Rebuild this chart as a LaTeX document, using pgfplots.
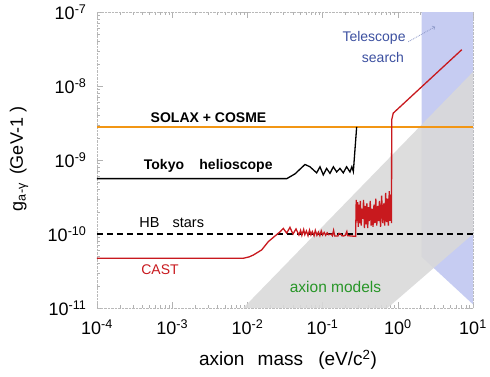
\documentclass[border=0pt]{standalone}
\usepackage{fontspec}
\setmainfont{Liberation Sans}
\usepackage{pgfplots}
\pgfplotsset{compat=1.18}
\definecolor{cblue}{RGB}{198,204,242}
\definecolor{corange}{RGB}{242,150,20}
\definecolor{cred}{RGB}{200,25,30}
\definecolor{cgreen}{RGB}{40,150,40}
\definecolor{ctext}{RGB}{60,80,160}
\newcommand{\fs}[1]{\fontsize{#1}{#1}\selectfont}
\begin{document}
\begin{tikzpicture}
\begin{axis}[
 xmode=log, ymode=log,
 scale only axis, width=376pt, height=296pt,
 xmin=1e-4, xmax=10, ymin=1e-11, ymax=1e-7,
 xtick={1e-4,1e-3,1e-2,1e-1,1,10},
 xticklabels={10\textsuperscript{-4},10\textsuperscript{-3},10\textsuperscript{-2},10\textsuperscript{-1},10\textsuperscript{0},10\textsuperscript{1}},
 ytick={1e-11,1e-10,1e-9,1e-8,1e-7},
 yticklabels={10\textsuperscript{-11},10\textsuperscript{-10},10\textsuperscript{-9},10\textsuperscript{-8},10\textsuperscript{-7}},
 tick label style={font=\fs{18}},
 xticklabel style={yshift=-8pt},
 yticklabel style={xshift=-7pt},
 axis line style={gray!55, densely dotted},
 tick style={gray!60},
 major tick length=6pt, minor tick length=3pt,
]
% telescope search region
\addplot[fill=cblue, draw=none] coordinates {(2.08,1e-7) (10,1e-7) (10,1.12e-11) (2.08,4.9e-11)} -- cycle;
% axion models band
\addplot[fill=gray!30, draw=none, fill opacity=0.9] coordinates {(0.00881,1e-11) (10,1.55e-8) (10,1.0e-10) (0.73,1e-11)} -- cycle;
% HB stars
\addplot[black, line width=1.3pt, dash pattern=on 6pt off 4pt] coordinates {(1e-4,1e-10) (10,1e-10)};
% SOLAX + COSME
\addplot[corange, line width=2.8pt] coordinates {(1e-4,2.8e-9) (10,2.8e-9)};
% Tokyo helioscope
\addplot[black, line width=1.3pt] coordinates {
(1e-4,5.6e-10) (0.0334,5.6e-10) (0.0430,6.5e-10) (0.0583,8.7e-10) (0.0679,8.1e-10)
(0.0834,6.7e-10) (0.0923,8.1e-10) (0.1021,6.3e-10) (0.1132,7.7e-10) (0.1253,6.6e-10)
(0.1390,8.1e-10) (0.1538,6.9e-10) (0.1702,7.7e-10) (0.1884,6.7e-10) (0.2084,8.1e-10)
(0.2312,6.9e-10) (0.2450,8.1e-10) (0.2564,7.0e-10) (0.2838,2.8e-9)};
% CAST
\addplot[cred, line width=1.3pt] coordinates {
(1e-4,4.7e-11) (0.0088,4.7e-11) (0.0105,4.9e-11) (0.0120,5.2e-11) (0.0155,6.1e-11)
(0.0190,7.9e-11) (0.0233,9.4e-11) (0.0272,1.07e-10) (0.0300,1.19e-10) (0.0333,1.03e-10)
(0.0368,1.23e-10) (0.0404,1.0e-10) (0.0443,1.17e-10) (0.0485,9.7e-11)
(0.051,1.12e-10) (0.053,9.6e-11) (0.056,1.15e-10) (0.058,9.8e-11) (0.061,1.10e-10)
(0.064,9.5e-11) (0.067,1.13e-10) (0.070,9.7e-11) (0.073,1.08e-10) (0.077,9.5e-11)
(0.080,1.12e-10) (0.084,9.6e-11) (0.088,1.06e-10) (0.092,9.5e-11) (0.096,1.10e-10)
(0.100,9.7e-11) (0.105,1.05e-10) (0.110,9.6e-11) (0.115,1.04e-10) (0.12,9.8e-11)
(0.13,1.0e-10) (0.135,9.5e-11) (0.14,1.12e-10) (0.145,9.4e-11) (0.16,9.4e-11)
(0.165,1.02e-10) (0.175,1.0e-10) (0.18,9.5e-11) (0.19,9.4e-11) (0.2,9.6e-11)
(0.21,1.08e-10) (0.215,9.5e-11) (0.24,9.4e-11) (0.275,9.3e-11)
(0.280,2.9e-10) (0.285,1.5e-10) (0.292,2.7e-10) (0.298,1.25e-10) (0.305,2.5e-10)
(0.312,1.4e-10) (0.318,2.8e-10) (0.326,1.3e-10) (0.334,2.2e-10) (0.342,1.6e-10)
(0.350,2.9e-10) (0.360,1.2e-10) (0.370,2.4e-10) (0.378,1.35e-10) (0.388,2.6e-10)
(0.398,1.2e-10) (0.408,2.3e-10) (0.418,1.5e-10) (0.430,2.8e-10) (0.442,1.3e-10)
(0.455,2.2e-10) (0.468,1.25e-10) (0.482,2.5e-10) (0.495,1.4e-10) (0.51,3.0e-10)
(0.525,1.3e-10) (0.54,2.4e-10) (0.556,1.5e-10) (0.57,2.8e-10) (0.59,1.25e-10)
(0.61,3.3e-10) (0.63,1.4e-10) (0.65,2.6e-10) (0.67,1.3e-10) (0.69,3.6e-10)
(0.71,1.45e-10) (0.73,3.0e-10) (0.75,1.3e-10) (0.77,3.8e-10) (0.79,1.5e-10)
(0.81,3.4e-10) (0.825,1.4e-10) (0.83,3.5e-9) (0.87,4.3e-9) (7.1,3.1e-8)};
% labels
\node[font=\fs{14}\bfseries] at (axis cs:0.00304,3.75e-9) {SOLAX + COSME};
\node[font=\fs{14}\bfseries] at (axis cs:7.78e-4,8.3e-10) {Tokyo};
\node[font=\fs{14}\bfseries] at (axis cs:7.05e-3,8.3e-10) {helioscope};
\node[font=\fs{14.5}] at (axis cs:4.99e-4,1.43e-10) {HB};
\node[font=\fs{14.5}] at (axis cs:1.64e-3,1.43e-10) {stars};
\node[font=\fs{14}, text=cred] at (axis cs:6.89e-4,3.27e-11) {CAST};
\node[font=\fs{15.5}, text=cgreen] at (axis cs:0.1486,1.94e-11) {axion models};
\node[font=\fs{14}, text=ctext] at (axis cs:0.483,4.41e-8) {Telescope};
\node[font=\fs{14}, text=ctext] at (axis cs:0.635,2.43e-8) {search};
\draw[->, densely dotted, color=ctext!60, thick] (axis cs:1.38,3.97e-8) -- (axis cs:3.13,6.32e-8);
\end{axis}
\node[rotate=90, font=\fs{18}] at (-78pt,149pt) {g\textsubscript{a-γ}\, (GeV-1 )};
\node[font=\fs{19}] at (191pt,-52pt) {axion\hspace{0.7em}mass\hspace{0.8em}(eV/c\textsuperscript{2})};
\pgfresetboundingbox
\path[use as bounding box] (-97pt,-69pt) rectangle (393pt,308pt);
\end{tikzpicture}
\end{document}
